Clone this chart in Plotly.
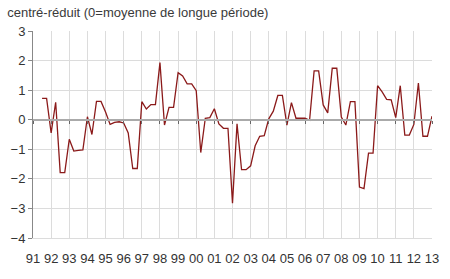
import plotly.graph_objects as go

start_year = 1991.5
values = [
    0.72, 0.72,
    -0.45, 0.59, -1.79, -1.79,
    -0.66, -1.06, -1.04, -1.02,
    0.10, -0.50, 0.62, 0.62,
    0.26, -0.16, -0.09, -0.07,
    -0.11, -0.45, -1.65, -1.65,
    0.61, 0.36, 0.51, 0.51,
    1.93, -0.18, 0.42, 0.42,
    1.59, 1.48, 1.21, 1.21,
    0.98, -1.11, 0.05, 0.07,
    0.37, -0.14, -0.29, -0.29,
    -2.82, -0.14, -1.69, -1.69,
    -1.56, -0.88, -0.56, -0.54,
    0.03, 0.29, 0.82, 0.82,
    -0.18, 0.58, 0.05, 0.05,
    0.05, -0.02, 1.65, 1.65,
    0.50, 0.23, 1.74, 1.74,
    0.09, -0.18, 0.61, 0.61,
    -2.28, -2.33, -1.13, -1.13,
    1.15, 0.94, 0.69, 0.67,
    0.07, 1.15, -0.52, -0.52,
    -0.16, 1.24, -0.56, -0.56,
    0.12,
]
dates = [start_year + 0.25 * i for i in range(len(values))]
tick_years = list(range(1991, 2014))
tick_labels = ["%02d" % (y % 100) for y in tick_years]
y_ticks = [-4, -3, -2, -1, 0, 1, 2, 3]
title_text = "centré-réduit (0=moyenne de longue période)"

fig = go.Figure()
fig.add_trace(go.Scatter(x=dates, y=values, mode="lines",
                         line=dict(color="#8b1a1a", width=1.3),
                         hoverinfo="skip", showlegend=False))
# invisible trace for the zero-line axis ticks
fig.add_trace(go.Scatter(x=[1991, 2013], y=[0, 0], mode="lines", xaxis="x2",
                         line=dict(width=0), hoverinfo="skip", showlegend=False))

fig.update_layout(
    width=450, height=279,
    margin=dict(l=26, r=11, t=31, b=41),
    paper_bgcolor="white", plot_bgcolor="white",
    font=dict(family="Liberation Sans, Arial, sans-serif", size=13, color="#333333"),
    title=dict(text=title_text, x=0.016, xanchor="left", xref="container",
               y=0.955, yanchor="middle", yref="container",
               font=dict(size=13, color="#3a3a3a")),
    xaxis=dict(range=[1991, 2013], tickvals=tick_years, ticktext=tick_labels,
               showgrid=True, gridcolor="#dcdcdc", gridwidth=1,
               zeroline=False, showline=True, linecolor="#dcdcdc", linewidth=1,
               ticks="", ticklabelstandoff=8,
               tickfont=dict(size=13, color="#333333")),
    xaxis2=dict(range=[1991, 2013], overlaying="x", anchor="free",
                position=4 / 7, tickvals=tick_years, showticklabels=False,
                ticks="outside", ticklen=3, tickcolor="#666666",
                showline=True, linecolor="#aaaaaa", linewidth=2,
                showgrid=False, zeroline=False),
    yaxis=dict(range=[-4, 3], tickvals=y_ticks,
               showgrid=True, gridcolor="#dcdcdc", gridwidth=1,
               zeroline=False, showline=True, linecolor="#888888", linewidth=1,
               ticks="outside", ticklen=4, tickcolor="#888888",
               tickfont=dict(size=13, color="#333333")),
)

fig.write_html("out.html")
